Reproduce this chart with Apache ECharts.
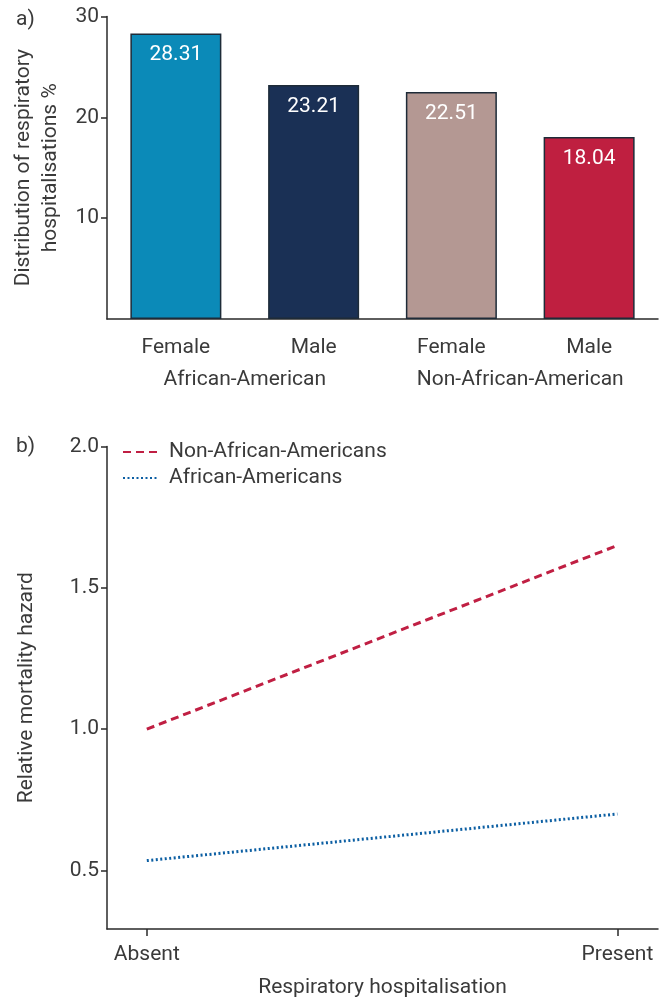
<!DOCTYPE html>
<html>
<head>
<meta charset="utf-8">
<script src="https://cdn.jsdelivr.net/npm/echarts@6/dist/echarts.min.js"></script>
<style>
  html, body { margin: 0; padding: 0; background: #ffffff; }
  #chart { width: 667px; height: 999px; }
</style>
</head>
<body>
<div id="chart"></div>
<script>
// Panel a: share of respiratory hospitalisations by sex within each population
const sexCategories = ['Female', 'Male', 'Female', 'Male'];
const populationGroups = ['African-American', 'Non-African-American'];
const hospitalisationShare = [28.31, 23.21, 22.51, 18.04];
const shareTicks = [10, 20, 30];

// Panel b: relative mortality hazard by respiratory hospitalisation status
const hospitalisationStatus = ['Absent', 'Present'];
const nonAfricanAmericanHazard = [1.00, 1.65];
const africanAmericanHazard = [0.535, 0.70];
const hazardTicks = [0.5, 1.0, 1.5, 2.0];

const barColors = ['#0b8ab8', '#1a3055', '#b49893', '#bf1f40'];

const FONT = 'Roboto';
const TEXT = '#3a3a3a';
const AXIS = '#2a2a2a';

const axisLineStyle = { color: AXIS, width: 1.5 };
const labelStyle = { fontFamily: FONT, fontSize: 21, color: TEXT };

const chart = echarts.init(document.getElementById('chart'), null, { renderer: 'canvas' });

chart.setOption({
  animation: false,
  backgroundColor: '#ffffff',
  textStyle: { fontFamily: FONT },
  grid: [
    { left: 107, right: 9, top: 16.5, bottom: 680 },
    { left: 107, right: 9, top: 446.5, bottom: 66.7 }
  ],
  legend: {
    data: ['Non-African-Americans', 'African-Americans'],
    orient: 'vertical',
    left: 117,
    top: 436.5,
    itemWidth: 35,
    itemHeight: 14,
    itemGap: 5,
    itemStyle: { opacity: 0 },
    textStyle: { fontFamily: FONT, fontSize: 21, color: TEXT, lineHeight: 20, padding: [0, 0, 0, 6] }
  },
  graphic: [
    { type: 'text', x: 16, y: 19.5, style: { text: 'a)', font: '21px ' + FONT, fill: TEXT, textVerticalAlign: 'middle' } },
    { type: 'text', x: 16, y: 447, style: { text: 'b)', font: '21px ' + FONT, fill: TEXT, textVerticalAlign: 'middle' } }
  ],
  xAxis: [
    {
      type: 'category',
      gridIndex: 0,
      data: sexCategories,
      axisLine: { lineStyle: axisLineStyle },
      axisTick: { alignWithLabel: true, length: 7, lineStyle: axisLineStyle },
      axisLabel: Object.assign({ margin: 18 }, labelStyle)
    },
    {
      type: 'category',
      gridIndex: 0,
      position: 'bottom',
      data: populationGroups,
      axisLine: { show: false },
      axisTick: { show: false },
      axisLabel: Object.assign({ margin: 50 }, labelStyle)
    },
    {
      type: 'value',
      gridIndex: 1,
      min: -0.0846,
      max: 1.0863,
      splitLine: { show: false },
      axisLine: { onZero: false, lineStyle: axisLineStyle },
      axisTick: { length: 7, lineStyle: axisLineStyle, customValues: [0, 1] },
      axisLabel: Object.assign({
        margin: 15,
        customValues: [0, 1],
        formatter: v => hospitalisationStatus[Math.round(v)]
      }, labelStyle),
      name: 'Respiratory hospitalisation',
      nameLocation: 'middle',
      nameGap: 48,
      nameTextStyle: { fontFamily: FONT, fontSize: 21, color: TEXT }
    }
  ],
  yAxis: [
    {
      type: 'value',
      gridIndex: 0,
      min: 0,
      max: 30,
      interval: 10,
      splitLine: { show: false },
      axisLine: { show: true, onZero: false, lineStyle: axisLineStyle },
      axisTick: { show: true, length: 6, lineStyle: axisLineStyle, customValues: shareTicks },
      axisLabel: Object.assign({ margin: 8, customValues: shareTicks }, labelStyle),
      name: 'Distribution of respiratory\nhospitalisations %',
      nameLocation: 'middle',
      nameGap: 41.5,
      nameTextStyle: { fontFamily: FONT, fontSize: 21, color: TEXT, lineHeight: 27, align: 'center' }
    },
    {
      type: 'value',
      gridIndex: 1,
      min: 0.293,
      max: 2.0,
      splitLine: { show: false },
      axisLine: { show: true, onZero: false, lineStyle: axisLineStyle },
      axisTick: { show: true, length: 6, lineStyle: axisLineStyle, customValues: hazardTicks },
      axisLabel: Object.assign({
        margin: 8,
        customValues: hazardTicks,
        formatter: v => v.toFixed(1)
      }, labelStyle),
      name: 'Relative mortality hazard',
      nameLocation: 'middle',
      nameGap: 70,
      nameTextStyle: { fontFamily: FONT, fontSize: 21, color: TEXT, lineHeight: 21 }
    }
  ],
  series: [
    {
      type: 'bar',
      xAxisIndex: 0,
      yAxisIndex: 0,
      barWidth: 91,
      data: hospitalisationShare.map((v, i) => ({ value: v, itemStyle: { color: barColors[i] } })),
      itemStyle: { borderColor: '#1e2b38', borderWidth: 1.5 },
      label: {
        show: true,
        position: 'insideTop',
        distance: 11,
        fontFamily: FONT,
        fontSize: 21,
        color: '#ffffff',
        formatter: p => p.value.toFixed(2)
      }
    },
    {
      name: 'Non-African-Americans',
      type: 'line',
      xAxisIndex: 2,
      yAxisIndex: 1,
      symbol: 'none',
      data: hospitalisationStatus.map((_, i) => [i, nonAfricanAmericanHazard[i]]),
      lineStyle: { color: '#c01f43', width: 3, type: [8, 5] },
      itemStyle: { color: '#c01f43' }
    },
    {
      name: 'African-Americans',
      type: 'line',
      xAxisIndex: 2,
      yAxisIndex: 1,
      symbol: 'none',
      data: hospitalisationStatus.map((_, i) => [i, africanAmericanHazard[i]]),
      lineStyle: { color: '#0c5fa3', width: 3, type: [2, 2.5] },
      itemStyle: { color: '#0c5fa3' }
    }
  ]
});
</script>
</body>
</html>
